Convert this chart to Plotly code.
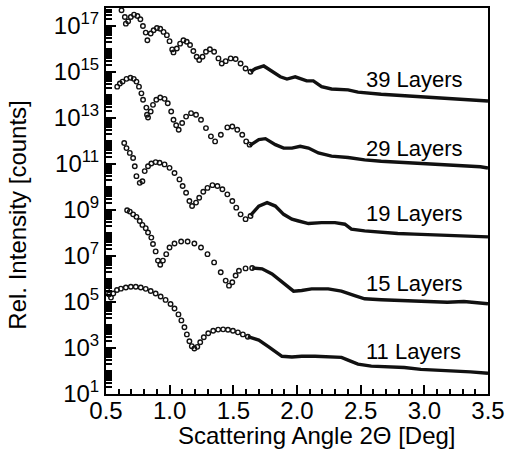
import numpy as np
import plotly.graph_objects as go

# ---------------- data (log10 of relative intensity) ----------------
# 39 layers
angle_39_pts = [0.622, 0.648, 0.656, 0.674, 0.695, 0.720, 0.747, 0.770, 0.790, 0.812,
                0.825, 0.851, 0.874, 0.900, 0.926, 0.952, 0.978, 0.999, 1.020, 1.030,
                1.056, 1.082, 1.108, 1.134, 1.160, 1.186, 1.212, 1.232, 1.258, 1.285,
                1.316, 1.349, 1.383, 1.409, 1.440, 1.479, 1.518, 1.557, 1.596, 1.635]
logI_39_pts = [17.68, 17.39, 17.10, 17.20, 17.39, 17.49, 17.43, 17.29, 17.00, 16.71,
               16.38, 16.67, 16.81, 16.91, 16.88, 16.74, 16.60, 16.34, 15.98, 15.85,
               16.02, 16.23, 16.38, 16.31, 16.17, 15.91, 15.66, 15.52, 15.66, 15.88,
               15.99, 15.88, 15.59, 15.37, 15.47, 15.59, 15.56, 15.37, 15.15, 15.01]
angle_39_line = [1.635, 1.674, 1.739, 1.804, 1.869, 1.921, 1.986, 2.076, 2.128, 2.193,
                 2.271, 2.401, 2.479, 2.661, 2.869, 3.077, 3.284, 3.500]
logI_39_line = [15.01, 15.15, 15.26, 15.01, 14.79, 14.69, 14.79, 14.61, 14.61, 14.36,
                14.26, 14.22, 14.12, 14.03, 13.96, 13.89, 13.83, 13.74]

# 29 layers
angle_29_pts = [0.588, 0.609, 0.630, 0.661, 0.692, 0.718, 0.739, 0.759, 0.778, 0.791,
                0.817, 0.822, 0.830, 0.851, 0.869, 0.895, 0.926, 0.960, 0.985, 1.012,
                1.030, 1.051, 1.071, 1.098, 1.129, 1.168, 1.207, 1.246, 1.285, 1.324,
                1.357, 1.402, 1.453, 1.492, 1.531, 1.570, 1.601, 1.628]
logI_29_pts = [14.36, 14.50, 14.58, 14.70, 14.75, 14.70, 14.58, 14.36, 14.07, 13.79,
               13.45, 13.14, 13.02, 13.28, 13.57, 13.79, 13.89, 13.83, 13.64, 13.28,
               12.92, 12.68, 12.49, 12.78, 13.06, 13.21, 13.14, 12.92, 12.56, 12.20,
               11.98, 12.27, 12.59, 12.63, 12.49, 12.27, 11.98, 11.84]
angle_29_line = [1.628, 1.700, 1.752, 1.830, 1.895, 1.960, 2.025, 2.090, 2.168, 2.271,
                 2.401, 2.531, 2.661, 2.791, 2.921, 3.050, 3.181, 3.311, 3.440, 3.500]
logI_29_line = [11.80, 12.06, 12.10, 11.84, 11.69, 11.69, 11.77, 11.69, 11.48, 11.34,
                11.28, 11.18, 11.12, 11.08, 11.02, 10.99, 10.95, 10.91, 10.88, 10.82]

# 19 layers
angle_19_pts = [0.643, 0.661, 0.687, 0.713, 0.726, 0.739, 0.765, 0.786, 0.804, 0.830,
                0.856, 0.890, 0.921, 0.960, 0.999, 1.038, 1.077, 1.102, 1.129, 1.155,
                1.176, 1.207, 1.232, 1.264, 1.297, 1.336, 1.375, 1.414, 1.453, 1.492,
                1.523, 1.557, 1.596, 1.635]
logI_19_pts = [11.91, 11.69, 11.48, 11.26, 10.90, 10.47, 10.18, 10.25, 10.69, 10.90,
               11.02, 11.08, 11.05, 10.98, 10.83, 10.61, 10.33, 10.04, 9.75, 9.39,
               9.17, 9.32, 9.53, 9.79, 9.96, 10.08, 10.04, 9.90, 9.68, 9.39,
               9.10, 8.81, 8.60, 8.74]
angle_19_line = [1.635, 1.700, 1.765, 1.830, 1.895, 1.960, 2.012, 2.090, 2.193, 2.298,
                 2.376, 2.427, 2.531, 2.661, 2.791, 2.921, 3.050, 3.181, 3.311, 3.500]
logI_19_line = [8.76, 9.17, 9.32, 9.17, 8.81, 8.60, 8.52, 8.41, 8.45, 8.45,
                8.38, 8.17, 8.09, 8.02, 7.98, 7.95, 7.92, 7.88, 7.88, 7.83]

# 15 layers
angle_15_pts = [0.666, 0.687, 0.713, 0.739, 0.765, 0.786, 0.812, 0.830, 0.856, 0.869,
                0.890, 0.908, 0.926, 0.947, 0.973, 0.999, 1.038, 1.090, 1.141, 1.194,
                1.246, 1.297, 1.349, 1.401, 1.440, 1.466, 1.492, 1.518, 1.544, 1.596,
                1.648]
logI_15_pts = [8.99, 8.93, 8.81, 8.70, 8.52, 8.35, 8.21, 8.02, 7.80, 7.52,
               7.20, 6.80, 6.62, 6.80, 7.08, 7.37, 7.54, 7.63, 7.63, 7.54,
               7.37, 7.08, 6.72, 6.29, 5.93, 5.71, 5.86, 6.15, 6.36, 6.46,
               6.48]
angle_15_line = [1.648, 1.726, 1.804, 1.869, 1.934, 1.973, 2.037, 2.115, 2.245, 2.349,
                 2.453, 2.531, 2.661, 2.791, 2.921, 3.050, 3.181, 3.311, 3.440, 3.500]
logI_15_line = [6.48, 6.44, 6.22, 5.93, 5.64, 5.47, 5.50, 5.57, 5.57, 5.47,
                5.28, 5.14, 5.10, 5.07, 5.03, 5.02, 4.99, 5.02, 4.95, 4.92]

# 11 layers
angle_11_pts = [0.508, 0.523, 0.539, 0.557, 0.586, 0.617, 0.656, 0.695, 0.734, 0.773,
                0.812, 0.851, 0.890, 0.929, 0.968, 1.007, 1.038, 1.069, 1.092, 1.116,
                1.135, 1.155, 1.174, 1.194, 1.217, 1.240, 1.268, 1.303, 1.342, 1.381,
                1.420, 1.458, 1.497, 1.536, 1.575, 1.614]
logI_11_pts = [5.54, 5.32, 5.19, 5.37, 5.52, 5.58, 5.63, 5.66, 5.66, 5.63,
               5.57, 5.48, 5.37, 5.24, 5.09, 4.91, 4.72, 4.46, 4.20, 3.90,
               3.59, 3.29, 3.08, 2.98, 3.05, 3.25, 3.47, 3.64, 3.75, 3.80,
               3.81, 3.79, 3.75, 3.68, 3.59, 3.49]
angle_11_line = [1.614, 1.700, 1.778, 1.830, 1.882, 1.960, 2.037, 2.142, 2.271, 2.349,
                 2.401, 2.479, 2.583, 2.713, 2.843, 2.973, 3.103, 3.233, 3.362, 3.500]
logI_11_line = [3.49, 3.34, 3.05, 2.83, 2.64, 2.61, 2.64, 2.64, 2.61, 2.59,
                2.47, 2.30, 2.21, 2.18, 2.15, 2.07, 2.04, 2.01, 1.96, 1.90]

series_names = ["39 Layers", "29 Layers", "19 Layers", "15 Layers", "11 Layers"]
label_logI = [14.69, 11.66, 8.85, 5.82, 2.83]
label_angle = 2.526

ytick_exp = [1, 3, 5, 7, 9, 11, 13, 15, 17]
ytick_text = [f"10<sup>{k}</sup>" for k in ytick_exp]
yminor_vals = [m * 10.0 ** k for k in range(1, 18) for m in range(2, 11)
               if not (m == 10 and (k + 1) in ytick_exp)]

# ---------------- figure ----------------
FONT = "Liberation Sans, Arial, Helvetica, sans-serif"
INK = "#111111"

pts = [(angle_39_pts, logI_39_pts), (angle_29_pts, logI_29_pts),
       (angle_19_pts, logI_19_pts), (angle_15_pts, logI_15_pts),
       (angle_11_pts, logI_11_pts)]
lines = [(angle_39_line, logI_39_line), (angle_29_line, logI_29_line),
         (angle_19_line, logI_19_line), (angle_15_line, logI_15_line),
         (angle_11_line, logI_11_line)]

fig = go.Figure()
for name, (xp, yp), (xl, yl) in zip(series_names, pts, lines):
    fig.add_trace(go.Scatter(
        x=xl, y=np.power(10.0, yl), mode="lines", name=name,
        line=dict(color=INK, width=3.4), showlegend=False))
    fig.add_trace(go.Scatter(
        x=xp, y=np.power(10.0, yp), mode="markers", name=name,
        marker=dict(symbol="circle-open", size=4.5, color=INK,
                    line=dict(width=1.4, color=INK)),
        showlegend=False))

for name, ly in zip(series_names, label_logI):
    fig.add_annotation(x=label_angle, y=ly, xref="x", yref="y", text=name,
                       showarrow=False, xanchor="left", yanchor="middle",
                       font=dict(family=FONT, size=22, color="black"))

fig.add_annotation(x=-0.231, y=0.464, xref="paper", yref="paper",
                   text="Rel. Intensity [counts]", textangle=-90,
                   showarrow=False, xanchor="center", yanchor="middle",
                   font=dict(family=FONT, size=24, color="black"))
fig.add_annotation(x=0.552, y=-0.108, xref="paper", yref="paper",
                   text="Scattering Angle 2\u0398 [Deg]",
                   showarrow=False, xanchor="center", yanchor="middle",
                   font=dict(family=FONT, size=24, color="black"))

fig.update_layout(
    width=511, height=457,
    margin=dict(l=106, r=20, t=6, b=63),
    paper_bgcolor="white", plot_bgcolor="white",
    font=dict(family=FONT, size=24, color="black"),
    xaxis=dict(range=[0.5, 3.5], tick0=0.5, dtick=0.5, tickformat=".1f",
               ticks="inside", ticklen=9, tickwidth=2, tickcolor="black",
               ticklabelstandoff=-6,
               showline=True, linewidth=2, linecolor="black", mirror=True,
               showgrid=False, zeroline=False,
               tickfont=dict(family=FONT, size=24, color="black"),
               minor=dict(dtick=0.1, ticks="inside", ticklen=5, tickwidth=1.6,
                          tickcolor="black", showgrid=False)),
    yaxis=dict(type="log", range=[1, 17.78],
               tickmode="array", tickvals=[10.0 ** k for k in ytick_exp],
               ticktext=ytick_text,
               ticks="inside", ticklen=10, tickwidth=2, tickcolor="black",
               showline=True, linewidth=2, linecolor="black", mirror=True,
               showgrid=False, zeroline=False,
               tickfont=dict(family=FONT, size=24, color="black"),
               minor=dict(tickmode="array", tickvals=yminor_vals,
                          ticks="inside", ticklen=6, tickwidth=1.6,
                          tickcolor="black", showgrid=False)),
)

fig.write_html("out.html",
               config={"displayModeBar": False},
               post_script="document.body.style.margin='0px';document.body.style.overflow='hidden';")
